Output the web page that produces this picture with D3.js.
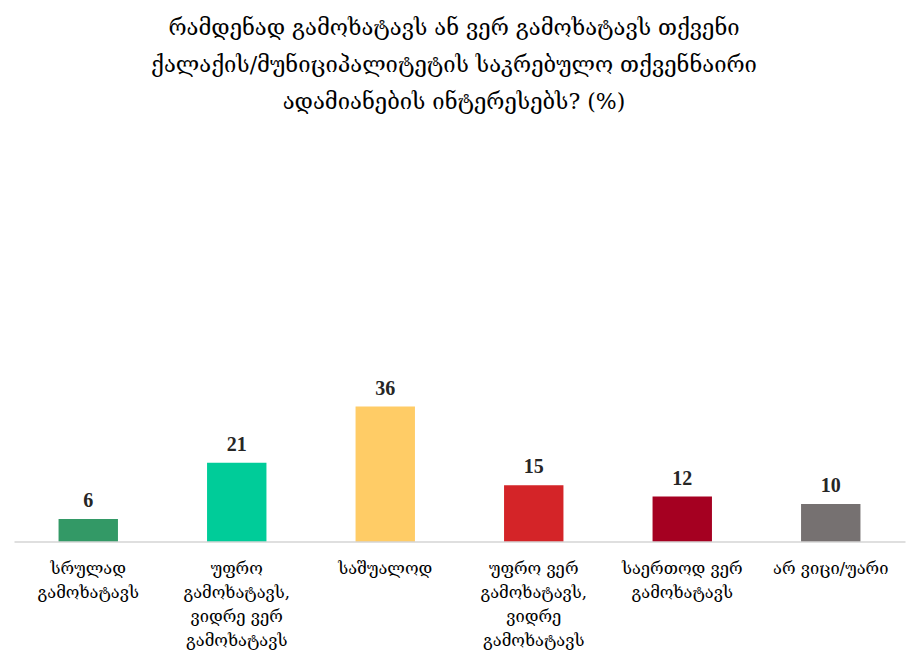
<!DOCTYPE html>
<html>
<head>
<meta charset="utf-8">
<script src="https://cdn.jsdelivr.net/npm/d3@7"></script>
<style>
  html, body { margin: 0; padding: 0; background: #ffffff; }
  svg { display: block; }
</style>
</head>
<body>
<svg id="chart" width="908" height="660"></svg>
<script>
const titleLines = [
  "რამდენად გამოხატავს ან ვერ გამოხატავს თქვენი",
  "ქალაქის/მუნიციპალიტეტის საკრებულო თქვენნაირი",
  "ადამიანების ინტერესებს? (%)"
];
const categories = [
  "სრულად\nგამოხატავს",
  "უფრო\nგამოხატავს,\nვიდრე ვერ\nგამოხატავს",
  "საშუალოდ",
  "უფრო ვერ\nგამოხატავს,\nვიდრე\nგამოხატავს",
  "საერთოდ ვერ\nგამოხატავს",
  "არ ვიცი/უარი"
];
const values = [6, 21, 36, 15, 12, 10];
const colors = ["#339966", "#00cc99", "#ffcc66", "#d42428", "#a50021", "#767171"];

const svg = d3.select("#chart");
const W = 908, H = 660;
const geoFont = "'DejaVu Serif', 'DejaVu Sans', serif";

const x = d3.scaleBand()
  .domain(d3.range(categories.length))
  .range([14, 905])
  .paddingInner(0.6)
  .paddingOuter(0.3);

const y = d3.scaleLinear().domain([0, 100]).range([541.5, 166.5]);

// Title
const title = svg.append("text")
  .attr("text-anchor", "middle")
  .attr("font-family", geoFont)
  .attr("font-size", 22)
  .attr("fill", "#000");
title.selectAll("tspan").data(titleLines).join("tspan")
  .attr("x", W / 2)
  .attr("y", (d, i) => 35 + i * 37)
  .text(d => d);

// Bars
svg.append("g").selectAll("rect").data(values).join("rect")
  .attr("x", (d, i) => x(i))
  .attr("y", d => y(d))
  .attr("width", x.bandwidth())
  .attr("height", d => y(0) - y(d))
  .attr("fill", (d, i) => colors[i]);

// Axis
const axis = svg.append("g")
  .attr("transform", `translate(0,${y(0)})`)
  .call(d3.axisBottom(x).tickSize(0).tickFormat(""));
axis.select(".domain").attr("stroke", "#bfbfbf").attr("stroke-width", 1.2);

// Value labels
svg.append("g").selectAll("text").data(values).join("text")
  .attr("x", (d, i) => x(i) + x.bandwidth() / 2)
  .attr("y", d => y(d) - 12)
  .attr("text-anchor", "middle")
  .attr("font-family", "'Liberation Serif', 'Times New Roman', serif")
  .attr("font-weight", "bold")
  .attr("font-size", 20)
  .attr("fill", "#262626")
  .text(d => d);

// Category labels
const catG = svg.append("g");
categories.forEach((c, i) => {
  const t = catG.append("text")
    .attr("text-anchor", "middle")
    .attr("font-family", geoFont)
    .attr("font-size", 16.5)
    .attr("fill", "#000");
  c.split("\n").forEach((line, j) => {
    t.append("tspan")
      .attr("x", x(i) + x.bandwidth() / 2)
      .attr("y", 574 + j * 24)
      .text(line);
  });
});
</script>
</body>
</html>
